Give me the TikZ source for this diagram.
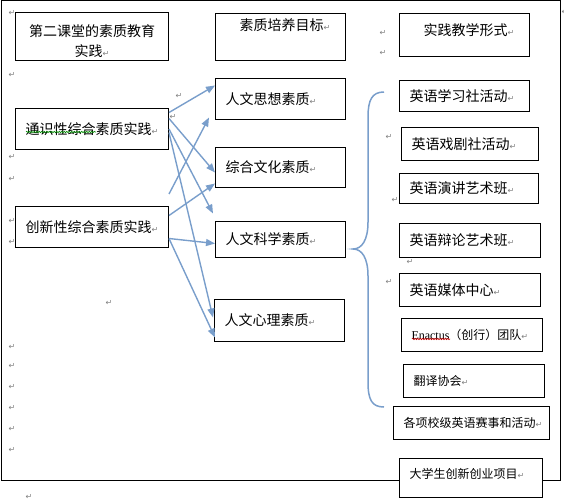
\documentclass[tikz,border=0pt]{standalone}
\usepackage{fontspec}
\setmainfont{Noto Sans CJK SC}
\newfontfamily\markfont{DejaVu Sans}
\newfontfamily\latinfont{Liberation Serif}
\usetikzlibrary{arrows.meta,decorations.pathmorphing}
\definecolor{linkblue}{RGB}{121,158,203}
\newcommand{\retmark}{{\color{gray}\markfont\fontsize{8}{8}\selectfont ↵}}

\begin{document}
\begin{tikzpicture}[x=1pt,y=-1pt,
    box/.style={draw, fill=white, line width=1pt, anchor=north west, inner xsep=10pt, inner ysep=0pt, align=left, font=\fontsize{14}{20}\selectfont},
    small/.style={font=\fontsize{12}{14}\selectfont},
    arr/.style={-{Triangle[length=9pt,width=7pt]}, draw=linkblue, line width=1.4pt},
    retm/.style={font=\markfont\fontsize{8}{8}\selectfont, text=gray, inner sep=0pt},
    squig/.style={decorate, decoration={snake, amplitude=0.7pt, segment length=2.5pt}, line width=0.6pt}]
    \useasboundingbox (0,0) rectangle (564,500);
    \draw[line width=1pt] (1.5,0.5) rectangle (560,480);

    \foreach \x/\y [count=\i] in {12/13, 12/75, 179/96, 173/117, 12/157, 12/179, 12/221, 12/242,
        109/303, 12/347, 12/366, 12/387, 12/408, 12/429, 12/450, 29/497,
        383/33, 383/53, 389/137, 395/200, 410/262, 389/282, 565/12}
        \node[retm] (mark\i) at (\x,\y) {↵};

    \node[box, align=center, minimum width=153pt, minimum height=48pt, text width=133pt] (dier) at (15,12) {\rule{0pt}{21pt}第二课堂的素质教育\\实践\retmark};
    \node[box, minimum width=153pt, minimum height=41pt, text width=133pt] (tongshi) at (15,108) {通识性综合素质实践\retmark};
    \node[box, minimum width=153pt, minimum height=41pt, text width=133pt] (chuangxin) at (15,206) {创新性综合素质实践\retmark};

    \node[box, minimum width=130pt, minimum height=47pt, text width=110pt, text depth=24pt] (mubiao) at (215,13) {\hspace*{14pt}素质培养目标\retmark};
    \node[box, minimum width=130pt, minimum height=41pt, text width=110pt] (sixiang) at (215,78) {人文思想素质\retmark};
    \node[box, minimum width=130pt, minimum height=40pt, text width=110pt] (wenhua) at (215,147) {综合文化素质\retmark};
    \node[box, minimum width=130pt, minimum height=36pt, text width=110pt] (kexue) at (215,221) {人文科学素质\retmark};
    \node[box, minimum width=130pt, minimum height=42pt, text width=110pt] (xinli) at (214,299) {人文心理素质\retmark};

    \node[box, minimum width=130pt, minimum height=43pt, text width=110pt, text depth=11pt] (xingshi) at (399,13) {\hspace*{14pt}实践教学形式\retmark};
    \node[box, minimum width=130pt, minimum height=31pt, text width=110pt] (xuexi) at (399,80) {英语学习社活动\retmark};
    \node[box, minimum width=137pt, minimum height=33pt, text width=117pt] (xiju) at (401,127) {英语戏剧社活动\retmark};
    \node[box, minimum width=139pt, minimum height=30pt, text width=119pt] (yanjiang) at (399,173) {英语演讲艺术班\retmark};
    \node[box, minimum width=141pt, minimum height=34pt, text width=121pt] (bianlun) at (399,223) {英语辩论艺术班\retmark};
    \node[box, minimum width=141pt, minimum height=33pt, text width=121pt] (meiti) at (399,273) {英语媒体中心\retmark};
    \node[box, small, minimum width=141pt, minimum height=33pt, text width=121pt] (enactus) at (401,318) {{\latinfont Enactus}（创行）团队\retmark};
    \node[box, small, minimum width=141pt, minimum height=33pt, text width=121pt] (fanyi) at (403,364) {翻译协会\retmark};
    \node[box, small, minimum width=156pt, minimum height=33pt, text width=136pt] (saishi) at (393,406) {各项校级英语赛事和活动\retmark};
    \node[box, small, minimum width=143pt, minimum height=39pt, text width=123pt, text depth=10pt] (chuangye) at (399,458) {大学生创新创业项目\retmark};

    \draw[squig, green!55!black] (26,132) -- (96,132);
    \draw[squig, red!80!black] (412,339) -- (450,339);

    \path ([yshift=16.5pt]tongshi.east) edge[arr] ([yshift=13.5pt]sixiang.west);
    \path ([yshift=10.5pt]tongshi.east) edge[arr] ([yshift=-5pt]wenhua.west);
    \path (tongshi.east) edge[arr] ([xshift=-2pt,yshift=26pt]kexue.west);
    \path ([yshift=-3.5pt]tongshi.east) edge[arr] ([xshift=-1pt,yshift=3pt]xinli.west);
    \path ([yshift=33pt]chuangxin.east) edge[arr] ([xshift=-6pt,yshift=-18.5pt]sixiang.west);
    \path ([yshift=11.5pt]chuangxin.east) edge[arr] ([yshift=-16pt]wenhua.west);
    \path ([yshift=-11.5pt]chuangxin.east) edge[arr] ([yshift=-4pt]kexue.west);
    \path ([yshift=-11.5pt]chuangxin.east) edge[arr] ([xshift=1pt,yshift=-17pt]xinli.west);

    \draw[linkblue, line width=1.5pt] (384,92) .. controls (372,92) and (368,100) .. (368,117)
        -- (368,222) .. controls (368,240) and (362,249) .. (353,249)
        .. controls (362,249) and (368,258) .. (368,276)
        -- (368,382) .. controls (368,400) and (372,407) .. (384,407);
\end{tikzpicture}
\end{document}
